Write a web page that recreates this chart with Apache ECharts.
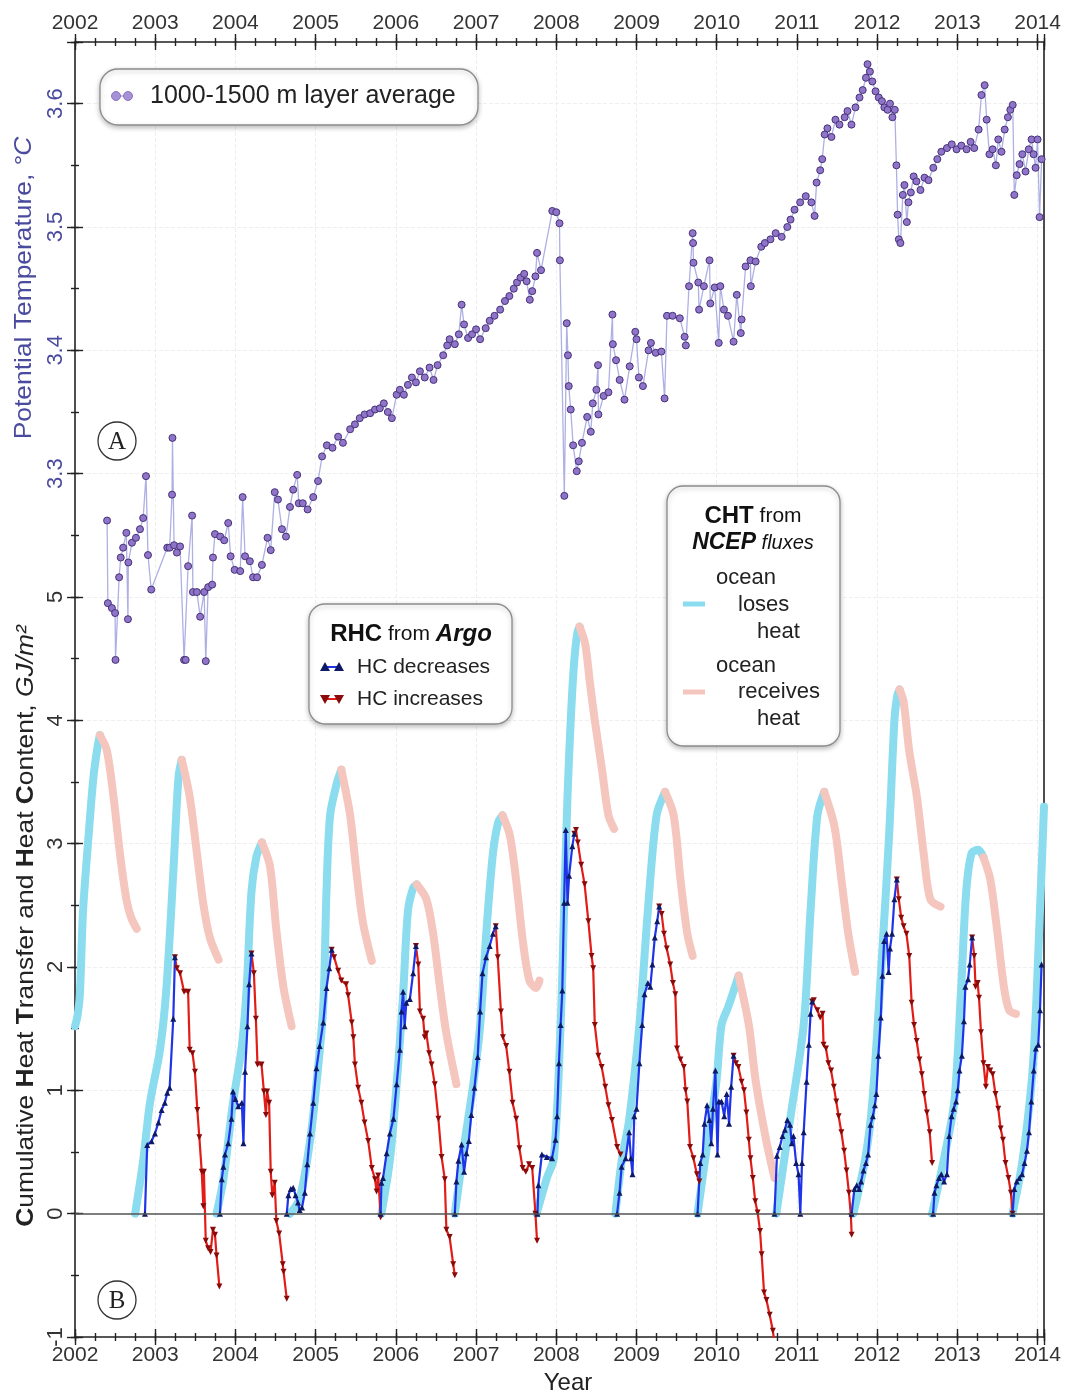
<!DOCTYPE html>
<html>
<head>
<meta charset="utf-8">
<script src="https://cdn.jsdelivr.net/npm/echarts@6/dist/echarts.min.js"></script>
<style>
  html, body { margin: 0; padding: 0; background: #fff; }
  #chart { width: 1070px; height: 1395px; }
</style>
</head>
<body>
<div id="chart"></div>
<script>
// 1000-1500 m layer average potential temperature [year, degC]
const tempData = [
  [2002.40,3.262],[2002.41,3.195],[2002.46,3.191],[2002.50,3.187],[2002.505,3.149],[2002.55,3.216],[2002.57,3.232],
  [2002.60,3.240],[2002.64,3.252],[2002.66,3.182],[2002.665,3.228],[2002.71,3.244],[2002.76,3.248],[2002.81,3.255],
  [2002.85,3.264],[2002.885,3.298],[2002.91,3.234],[2002.95,3.206],[2003.15,3.240],[2003.18,3.240],[2003.21,3.283],
  [2003.215,3.329],[2003.235,3.242],[2003.27,3.236],[2003.31,3.241],[2003.36,3.149],[2003.38,3.149],[2003.41,3.225],
  [2003.46,3.266],[2003.47,3.204],[2003.52,3.204],[2003.56,3.184],[2003.61,3.204],[2003.63,3.148],[2003.66,3.208],
  [2003.71,3.210],[2003.72,3.232],[2003.745,3.251],[2003.81,3.249],[2003.86,3.246],[2003.91,3.260],[2003.94,3.233],
  [2003.99,3.222],[2004.06,3.221],[2004.09,3.281],[2004.12,3.233],[2004.18,3.229],[2004.22,3.216],[2004.27,3.216],
  [2004.33,3.226],[2004.40,3.248],[2004.44,3.238],[2004.49,3.285],[2004.53,3.279],[2004.58,3.255],[2004.63,3.249],
  [2004.68,3.273],[2004.72,3.287],[2004.77,3.299],[2004.79,3.276],[2004.84,3.276],[2004.90,3.271],[2004.97,3.281],
  [2005.03,3.294],[2005.08,3.314],[2005.14,3.323],[2005.21,3.321],[2005.28,3.330],[2005.34,3.325],[2005.43,3.336],
  [2005.49,3.340],[2005.55,3.345],[2005.61,3.348],[2005.68,3.349],[2005.74,3.352],[2005.80,3.353],[2005.85,3.357],
  [2005.90,3.350],[2005.95,3.345],[2006.01,3.364],[2006.05,3.368],[2006.10,3.364],[2006.15,3.372],[2006.20,3.378],
  [2006.25,3.374],[2006.30,3.383],[2006.36,3.378],[2006.42,3.386],[2006.47,3.376],[2006.52,3.388],[2006.59,3.396],
  [2006.64,3.404],[2006.67,3.409],[2006.735,3.405],[2006.785,3.413],[2006.82,3.437],[2006.85,3.421],[2006.90,3.410],
  [2006.95,3.413],[2007.00,3.417],[2007.05,3.409],[2007.12,3.418],[2007.17,3.424],[2007.23,3.428],[2007.30,3.433],
  [2007.36,3.440],[2007.415,3.444],[2007.47,3.450],[2007.51,3.455],[2007.554,3.459],[2007.60,3.462],[2007.63,3.456],
  [2007.67,3.441],[2007.70,3.448],[2007.74,3.460],[2007.76,3.479],[2007.81,3.465],[2007.95,3.513],[2008.00,3.512],
  [2008.04,3.503],[2008.045,3.473],[2008.10,3.282],[2008.13,3.422],[2008.145,3.396],[2008.155,3.371],[2008.18,3.352],
  [2008.21,3.323],[2008.255,3.302],[2008.28,3.310],[2008.32,3.325],[2008.385,3.346],[2008.43,3.334],[2008.455,3.357],
  [2008.50,3.368],[2008.52,3.388],[2008.525,3.348],[2008.59,3.363],[2008.65,3.366],[2008.70,3.429],[2008.705,3.405],
  [2008.745,3.392],[2008.79,3.376],[2008.85,3.360],[2008.915,3.387],[2008.985,3.415],[2009.00,3.409],[2009.03,3.378],
  [2009.08,3.371],[2009.15,3.400],[2009.18,3.406],[2009.24,3.398],[2009.31,3.399],[2009.35,3.361],[2009.38,3.428],
  [2009.45,3.428],[2009.54,3.426],[2009.60,3.411],[2009.615,3.404],[2009.655,3.452],[2009.70,3.495],[2009.705,3.487],
  [2009.71,3.471],[2009.77,3.455],[2009.78,3.433],[2009.84,3.452],[2009.91,3.473],[2009.92,3.438],[2009.975,3.451],
  [2010.025,3.406],[2010.045,3.452],[2010.09,3.433],[2010.14,3.428],[2010.21,3.407],[2010.25,3.445],[2010.30,3.414],
  [2010.31,3.425],[2010.36,3.468],[2010.42,3.473],[2010.425,3.452],[2010.485,3.472],[2010.555,3.484],[2010.60,3.487],
  [2010.67,3.490],[2010.735,3.495],[2010.81,3.492],[2010.88,3.500],[2010.92,3.506],[2010.97,3.514],[2011.04,3.520],
  [2011.11,3.525],[2011.18,3.520],[2011.22,3.509],[2011.245,3.536],[2011.29,3.546],[2011.315,3.555],[2011.346,3.575],
  [2011.38,3.580],[2011.43,3.573],[2011.48,3.587],[2011.53,3.583],[2011.595,3.589],[2011.63,3.594],[2011.68,3.583],
  [2011.73,3.597],[2011.78,3.605],[2011.82,3.611],[2011.86,3.621],[2011.88,3.632],[2011.91,3.626],[2011.94,3.618],
  [2011.98,3.610],[2012.02,3.605],[2012.06,3.602],[2012.09,3.597],[2012.13,3.595],[2012.16,3.600],[2012.19,3.589],
  [2012.22,3.595],[2012.24,3.550],[2012.255,3.510],[2012.27,3.490],[2012.29,3.487],[2012.32,3.526],[2012.34,3.534],
  [2012.37,3.504],[2012.39,3.520],[2012.42,3.528],[2012.455,3.541],[2012.49,3.537],[2012.54,3.530],[2012.59,3.540],
  [2012.64,3.538],[2012.70,3.548],[2012.75,3.555],[2012.80,3.561],[2012.87,3.564],[2012.93,3.567],[2012.99,3.563],
  [2013.05,3.566],[2013.115,3.563],[2013.165,3.569],[2013.21,3.564],[2013.265,3.579],[2013.30,3.607],[2013.34,3.615],
  [2013.365,3.587],[2013.40,3.559],[2013.44,3.563],[2013.48,3.550],[2013.51,3.571],[2013.55,3.561],[2013.59,3.579],
  [2013.63,3.589],[2013.66,3.595],[2013.69,3.599],[2013.71,3.526],[2013.74,3.542],[2013.775,3.551],[2013.81,3.559],
  [2013.85,3.545],[2013.89,3.563],[2013.925,3.571],[2013.95,3.559],[2013.975,3.548],[2014.00,3.571],[2014.025,3.508],
  [2014.05,3.555]
];

// RHC from Argo, GJ/m2 -- rising part of each cycle ("HC decreases")
const rhcRise = [
  [[2002.872,0],[2002.90,0.557],[2002.955,0.588],[2002.997,0.65],[2003.04,0.74],[2003.08,0.84],[2003.12,0.90],[2003.15,0.98],[2003.18,1.02],[2003.225,1.58],[2003.246,2.08]],
  [[2003.807,0],[2003.83,0.28],[2003.85,0.38],[2003.87,0.48],[2003.91,0.57],[2003.95,0.77],[2003.97,0.99],[2004.0,0.93],[2004.035,0.87],[2004.08,0.90],[2004.10,0.57],[2004.12,1.15],[2004.15,1.52],[2004.17,1.86],[2004.20,2.11]],
  [[2004.64,0],[2004.66,0.15],[2004.69,0.20],[2004.72,0.21],[2004.75,0.15],[2004.78,0.09],[2004.80,0.03],[2004.83,0.05],[2004.865,0.17],[2004.895,0.40],[2004.93,0.65],[2004.97,0.90],[2005.01,1.18],[2005.05,1.36],[2005.095,1.55],[2005.135,1.83],[2005.17,1.99],[2005.20,2.14]],
  [[2005.81,0],[2005.82,0.25],[2005.84,0.29],[2005.885,0.49],[2005.925,0.65],[2005.97,0.77],[2006.01,1.05],[2006.05,1.33],[2006.07,1.64],[2006.09,1.80],[2006.11,1.52],[2006.13,1.71],[2006.175,1.74],[2006.215,1.95],[2006.25,2.17]],
  [[2006.735,0],[2006.755,0.26],[2006.78,0.43],[2006.82,0.56],[2006.85,0.34],[2006.88,0.49],[2006.91,0.59],[2006.94,0.80],[2006.98,1.02],[2007.02,1.27],[2007.05,1.64],[2007.08,1.95],[2007.125,2.08],[2007.17,2.17],[2007.21,2.27],[2007.245,2.33]],
  [[2007.765,0],[2007.777,0.23],[2007.82,0.48],[2007.883,0.46],[2007.947,0.45],[2007.99,0.60],[2008.01,0.79],[2008.033,1.22],[2008.054,1.53],[2008.075,1.81],[2008.097,2.52],[2008.118,3.11],[2008.14,2.52],[2008.16,2.74],[2008.20,2.98],[2008.225,3.08]],
  [[2008.758,0],[2008.788,0.17],[2008.814,0.38],[2008.865,0.45],[2008.908,0.66],[2008.93,0.45],[2008.95,0.32],[2008.972,0.79],[2009.0,0.85],[2009.036,1.22],[2009.07,1.53],[2009.10,1.78],[2009.142,1.87],[2009.172,1.84],[2009.198,2.02],[2009.228,2.24],[2009.258,2.37],[2009.283,2.49]],
  [[2009.761,0],[2009.795,0.41],[2009.825,0.48],[2009.847,0.73],[2009.88,0.88],[2009.91,0.76],[2009.932,0.57],[2009.953,0.85],[2009.983,1.16],[2010.01,0.48],[2010.026,0.91],[2010.06,0.91],[2010.094,0.79],[2010.124,0.97],[2010.154,0.73],[2010.18,1.03],[2010.21,1.28]],
  [[2010.72,0],[2010.751,0.47],[2010.786,0.54],[2010.82,0.63],[2010.85,0.68],[2010.88,0.76],[2010.914,0.72],[2010.935,0.57],[2010.956,0.63],[2010.99,0.41],[2011.02,0.32],[2011.042,0],[2011.063,0.41],[2011.084,0.66],[2011.12,1.07],[2011.148,1.37],[2011.17,1.62],[2011.19,1.72]],
  [[2011.682,0],[2011.716,0.20],[2011.746,0.23],[2011.776,0.20],[2011.80,0.26],[2011.83,0.35],[2011.86,0.41],[2011.887,0.48],[2011.917,0.72],[2011.947,0.79],[2011.972,0.88],[2011.99,0.97],[2012.015,1.28],[2012.045,1.59],[2012.066,1.93],[2012.087,2.21],[2012.117,2.27],[2012.143,1.96],[2012.16,2.15],[2012.186,2.27],[2012.215,2.55],[2012.245,2.71]],
  [[2012.698,0],[2012.715,0.17],[2012.74,0.23],[2012.77,0.29],[2012.80,0.32],[2012.834,0.26],[2012.87,0.32],[2012.898,0.63],[2012.928,0.79],[2012.954,0.85],[2012.984,0.91],[2013.005,1.0],[2013.026,1.16],[2013.056,1.28],[2013.082,1.56],[2013.10,1.84],[2013.133,1.90],[2013.154,2.02],[2013.184,2.24]],
  [[2013.688,0],[2013.71,0.20],[2013.74,0.26],[2013.773,0.29],[2013.807,0.32],[2013.837,0.41],[2013.867,0.51],[2013.893,0.66],[2013.922,0.91],[2013.952,1.16],[2013.978,1.34],[2014.008,1.37],[2014.03,1.65],[2014.05,2.02]]
];

// RHC from Argo -- falling part of each cycle ("HC increases")
const rhcFall = [
  [[2003.246,2.08],[2003.27,1.99],[2003.31,1.95],[2003.36,1.80],[2003.41,1.80],[2003.43,1.33],[2003.465,1.30],[2003.495,1.15],[2003.525,0.84],[2003.55,0.62],[2003.58,0.34],[2003.60,0.06],[2003.607,0.34],[2003.63,-0.22],[2003.66,-0.28],[2003.69,-0.31],[2003.72,-0.13],[2003.745,-0.17],[2003.765,-0.34],[2003.80,-0.59]],
  [[2004.20,2.11],[2004.23,1.95],[2004.255,1.58],[2004.275,1.21],[2004.325,1.21],[2004.355,0.99],[2004.38,0.80],[2004.395,0.99],[2004.42,0.90],[2004.44,0.34],[2004.46,0.15],[2004.49,0.25],[2004.51,-0.06],[2004.545,-0.16],[2004.59,-0.41],[2004.60,-0.47],[2004.64,-0.69]],
  [[2005.20,2.14],[2005.23,2.08],[2005.28,1.97],[2005.32,1.89],[2005.38,1.86],[2005.405,1.77],[2005.45,1.55],[2005.47,1.43],[2005.49,1.21],[2005.53,1.02],[2005.57,0.90],[2005.61,0.74],[2005.655,0.59],[2005.70,0.37],[2005.74,0.28],[2005.76,0.18],[2005.78,0.31],[2005.81,-0.03]],
  [[2006.25,2.17],[2006.28,2.02],[2006.30,1.64],[2006.34,1.58],[2006.36,1.43],[2006.38,1.46],[2006.415,1.30],[2006.445,1.21],[2006.485,1.05],[2006.53,0.77],[2006.57,0.46],[2006.61,0.28],[2006.63,-0.13],[2006.67,-0.19],[2006.715,-0.41],[2006.735,-0.50]],
  [[2007.245,2.33],[2007.27,2.08],[2007.31,1.64],[2007.335,1.43],[2007.375,1.36],[2007.415,1.15],[2007.455,0.90],[2007.50,0.77],[2007.54,0.53],[2007.58,0.37],[2007.62,0.34],[2007.66,0.40],[2007.70,0.37],[2007.74,0],[2007.76,-0.22]],
  [[2008.225,3.08],[2008.246,3.11],[2008.268,3.01],[2008.31,2.83],[2008.353,2.67],[2008.40,2.37],[2008.44,2.09],[2008.46,1.99],[2008.48,1.53],[2008.524,1.28],[2008.566,1.19],[2008.61,1.03],[2008.65,0.88],[2008.694,0.76],[2008.758,0.54],[2008.80,0.48]],
  [[2009.283,2.49],[2009.313,2.43],[2009.343,2.27],[2009.377,2.15],[2009.42,2.02],[2009.454,1.87],[2009.484,1.78],[2009.505,1.34],[2009.548,1.25],[2009.59,1.19],[2009.612,1.0],[2009.633,0.91],[2009.667,0.54],[2009.71,0.45],[2009.753,0.32],[2009.783,0.26]],
  [[2010.21,1.28],[2010.24,1.22],[2010.27,1.19],[2010.31,1.07],[2010.34,1.0],[2010.37,0.82],[2010.40,0.60],[2010.42,0.45],[2010.45,0.29],[2010.48,0.10],[2010.51,0.01],[2010.54,-0.14],[2010.56,-0.33],[2010.59,-0.64],[2010.62,-0.70],[2010.66,-0.82],[2010.70,-0.95],[2010.73,-1.1]],
  [[2011.19,1.72],[2011.21,1.73],[2011.255,1.65],[2011.29,1.59],[2011.32,1.62],[2011.332,1.37],[2011.362,1.34],[2011.392,1.22],[2011.426,1.16],[2011.46,1.03],[2011.49,0.91],[2011.52,0.79],[2011.554,0.66],[2011.588,0.51],[2011.618,0.35],[2011.648,0.17],[2011.673,-0.02],[2011.682,-0.17]],
  [[2012.245,2.71],[2012.27,2.55],[2012.30,2.40],[2012.33,2.33],[2012.365,2.27],[2012.40,2.09],[2012.43,1.71],[2012.46,1.53],[2012.493,1.40],[2012.527,1.25],[2012.557,1.13],[2012.587,0.97],[2012.62,0.82],[2012.655,0.66],[2012.685,0.41]],
  [[2013.184,2.24],[2013.21,2.09],[2013.227,1.84],[2013.253,1.87],[2013.27,1.75],[2013.295,1.47],[2013.325,1.22],[2013.355,1.03],[2013.38,1.19],[2013.41,1.16],[2013.44,1.13],[2013.475,0.97],[2013.51,0.85],[2013.54,0.69],[2013.568,0.60],[2013.60,0.41],[2013.637,0.29],[2013.667,0.17],[2013.688,0]]
];

// CHT from NCEP fluxes -- ocean loses heat (rising) / receives heat (falling)
const chtLoses = [
  [[2002.0,1.52],[2002.03,1.60],[2002.06,1.77],[2002.10,2.45],[2002.17,3.07],[2002.23,3.54],[2002.28,3.78],[2002.31,3.88]],
  [[2002.75,0],[2002.85,0.43],[2002.935,0.90],[2003.06,1.33],[2003.14,1.83],[2003.225,2.76],[2003.29,3.54],[2003.33,3.68]],
  [[2003.765,0],[2003.85,0.28],[2003.97,0.90],[2004.08,1.36],[2004.14,1.83],[2004.20,2.61],[2004.26,2.89],[2004.33,3.01]],
  [[2004.68,0],[2004.80,0.12],[2004.93,0.59],[2005.01,1.05],[2005.095,1.68],[2005.135,2.61],[2005.18,3.23],[2005.26,3.48],[2005.32,3.60]],
  [[2005.82,0],[2005.925,0.43],[2006.01,1.05],[2006.09,1.77],[2006.15,2.45],[2006.215,2.64],[2006.26,2.67]],
  [[2006.735,0],[2006.86,0.59],[2006.965,1.05],[2007.05,1.52],[2007.13,2.30],[2007.21,2.92],[2007.275,3.17],[2007.33,3.23]],
  [[2007.755,0],[2007.883,0.29],[2007.97,0.45],[2008.054,1.53],[2008.097,2.46],[2008.14,3.39],[2008.18,4.0],[2008.22,4.45],[2008.26,4.70],[2008.29,4.76]],
  [[2008.737,0],[2008.82,0.45],[2008.908,0.76],[2009.036,1.53],[2009.142,2.46],[2009.25,3.23],[2009.356,3.42]],
  [[2009.761,0],[2009.89,0.60],[2009.996,1.07],[2010.06,1.53],[2010.145,1.68],[2010.273,1.93]],
  [[2010.743,0],[2010.914,0.76],[2011.084,1.53],[2011.17,2.46],[2011.255,3.23],[2011.34,3.42]],
  [[2011.703,0],[2011.853,0.45],[2011.94,0.91],[2012.066,2.15],[2012.15,3.08],[2012.215,4.0],[2012.25,4.2],[2012.28,4.25]],
  [[2012.685,0],[2012.834,0.45],[2012.962,0.91],[2013.048,1.84],[2013.11,2.61],[2013.176,2.92],[2013.26,2.95],[2013.325,2.89]],
  [[2013.688,0],[2013.816,0.45],[2013.944,1.22],[2014.03,2.46],[2014.08,3.30]]
];
const chtReceives = [
  [[2002.31,3.88],[2002.395,3.76],[2002.48,3.38],[2002.56,2.92],[2002.64,2.55],[2002.70,2.40],[2002.77,2.31]],
  [[2003.33,3.68],[2003.43,3.38],[2003.52,2.92],[2003.60,2.51],[2003.68,2.24],[2003.79,2.06]],
  [[2004.33,3.01],[2004.43,2.82],[2004.51,2.30],[2004.60,1.83],[2004.70,1.52]],
  [[2005.32,3.60],[2005.43,3.23],[2005.51,2.76],[2005.59,2.36],[2005.70,2.05]],
  [[2006.26,2.67],[2006.38,2.55],[2006.465,2.27],[2006.55,1.83],[2006.63,1.46],[2006.755,1.05]],
  [[2007.33,3.23],[2007.42,3.07],[2007.50,2.70],[2007.585,2.20],[2007.665,1.89],[2007.75,1.83],[2007.79,1.89]],
  [[2008.29,4.76],[2008.36,4.62],[2008.42,4.30],[2008.48,4.0],[2008.57,3.60],[2008.65,3.23],[2008.72,3.12]],
  [[2009.356,3.42],[2009.463,3.23],[2009.548,2.71],[2009.633,2.27],[2009.70,2.09]],
  [[2010.273,1.93],[2010.40,1.53],[2010.487,1.07],[2010.615,0.60],[2010.72,0.29]],
  [[2011.34,3.42],[2011.468,3.14],[2011.554,2.71],[2011.64,2.27],[2011.725,1.96]],
  [[2012.28,4.25],[2012.33,4.15],[2012.40,3.75],[2012.493,3.39],[2012.58,2.92],[2012.663,2.55],[2012.79,2.49]],
  [[2013.325,2.89],[2013.41,2.71],[2013.495,2.30],[2013.58,1.84],[2013.645,1.65],[2013.73,1.62]]
];

const X_MIN = 2002, X_MAX = 2014.08;
const HC_MIN = -1, HC_MAX = 9.5;      // bottom panel axis, extends under panel A
const T_MIN = 2.6, T_MAX = 3.65;      // same pixel scale: 0.1 degC == 1 GJ/m2
const FONT = 'Liberation Sans, Arial, sans-serif';
const AXIS_COLOR = '#222';
const TEMP_COLOR = '#4a4a9e';
const CYAN = '#8adcee', PINK = '#f5c6be';

const myChart = echarts.init(document.getElementById('chart'));

function xAxisDef(position, interval, inside, len, withLabels) {
  return {
    type: 'value', position: position, min: X_MIN, max: X_MAX, interval: interval,
    axisLine: { show: withLabels, onZero: false, lineStyle: { color: AXIS_COLOR, width: 1.6 } },
    axisTick: { show: true, inside: inside, length: len, lineStyle: { color: AXIS_COLOR, width: 1.4 } },
    axisLabel: {
      show: withLabels, margin: 8, fontSize: 21, color: '#333', fontFamily: FONT,
      formatter: function (v) { return Math.abs(v - Math.round(v)) < 1e-6 ? String(Math.round(v)) : ''; }
    },
    splitLine: { show: withLabels && position === 'bottom', lineStyle: { color: '#efefef', type: 'dashed' } }
  };
}

function yTickAxis(interval, inside, len) {
  return {
    type: 'value', position: 'left', min: HC_MIN, max: HC_MAX, interval: interval,
    axisLine: { show: false, onZero: false },
    axisTick: { show: true, inside: inside, length: len, lineStyle: { color: AXIS_COLOR, width: 1.4 } },
    axisLabel: { show: false },
    splitLine: { show: false }
  };
}

function cycleSeries(cycles, base) {
  return cycles.map(function (d) { return Object.assign({ data: d }, base); });
}

const riseBase = {
  type: 'line', xAxisIndex: 0, yAxisIndex: 0, z: 4,
  symbol: 'triangle', symbolSize: 6,
  itemStyle: { color: '#0f1a66' },
  lineStyle: { color: '#1f33e8', width: 2.2 }
};
const fallBase = {
  type: 'line', xAxisIndex: 0, yAxisIndex: 0, z: 4,
  symbol: 'triangle', symbolRotate: 180, symbolSize: 6,
  itemStyle: { color: '#8a0a0a' },
  lineStyle: { color: '#e21d18', width: 2.2 }
};
const losesBase = {
  type: 'line', xAxisIndex: 0, yAxisIndex: 0, z: 2, smooth: 0.3,
  showSymbol: false, lineStyle: { color: CYAN, width: 8, cap: 'round' }
};
const receivesBase = {
  type: 'line', xAxisIndex: 0, yAxisIndex: 0, z: 2, smooth: 0.3,
  showSymbol: false, lineStyle: { color: PINK, width: 8, cap: 'round' }
};

const series = [].concat(
  cycleSeries(chtLoses, losesBase),
  cycleSeries(chtReceives, receivesBase),
  cycleSeries(rhcFall, fallBase),
  cycleSeries(rhcRise, riseBase),
  [{
    type: 'line', xAxisIndex: 0, yAxisIndex: 1, z: 5, data: tempData,
    symbol: 'circle', symbolSize: 7,
    itemStyle: { color: '#8f74c8', borderColor: '#45327a', borderWidth: 1 },
    lineStyle: { color: '#aeb0e4', width: 1.3 }
  }]
);
// zero line of the heat content axis
series[series.length - 2].markLine = {
  silent: true, symbol: 'none', label: { show: false },
  lineStyle: { color: '#555', width: 1.5, type: 'solid' },
  data: [{ yAxis: 0 }]
};

function legendTriangles(x, y, up, fill) {
  const pts = function (cx) {
    return up ? [[cx - 5, y + 4], [cx + 5, y + 4], [cx, y - 5]] : [[cx - 5, y - 4], [cx + 5, y - 4], [cx, y + 5]];
  };
  return [
    { type: 'line', z: 101, shape: { x1: x, y1: y, x2: x + 14, y2: y }, style: { stroke: up ? '#1f33e8' : '#e21d18', lineWidth: 2 } },
    { type: 'polygon', z: 102, shape: { points: pts(x) }, style: { fill: fill } },
    { type: 'polygon', z: 102, shape: { points: pts(x + 14) }, style: { fill: fill } }
  ];
}

function plainText(x, y, text, size, extra) {
  return Object.assign({
    type: 'text', x: x, y: y, z: 101,
    style: { text: text, fontSize: size, fontFamily: FONT, fill: '#222', textAlign: 'left', textVerticalAlign: 'middle' }
  }, extra || {});
}

const boxStyle = { fill: '#fff', stroke: '#8c8c8c', lineWidth: 1.3, shadowBlur: 5, shadowColor: 'rgba(0,0,0,0.25)', shadowOffsetY: 2 };

const graphic = [
  // legend of panel A
  { type: 'rect', z: 100, shape: { x: 100, y: 69, width: 378, height: 56, r: 18 }, style: boxStyle },
  { type: 'line', z: 101, shape: { x1: 116, y1: 96, x2: 128, y2: 96 }, style: { stroke: '#aeb0e4', lineWidth: 1.5 } },
  { type: 'circle', z: 102, shape: { cx: 116, cy: 96, r: 4.5 }, style: { fill: '#a690d6', stroke: '#8a76c0', lineWidth: 1 } },
  { type: 'circle', z: 102, shape: { cx: 128, cy: 96, r: 4.5 }, style: { fill: '#a690d6', stroke: '#8a76c0', lineWidth: 1 } },
  plainText(150, 96, '1000-1500 m layer average', 25),

  // RHC legend
  { type: 'rect', z: 100, shape: { x: 309, y: 604, width: 203, height: 120, r: 16 }, style: boxStyle },
  {
    type: 'text', x: 411, y: 634, z: 101,
    style: {
      text: '{b|RHC} from {bi|Argo}', fontSize: 21, fontFamily: FONT, fill: '#111',
      textAlign: 'center', textVerticalAlign: 'middle',
      rich: { b: { fontSize: 24, fontWeight: 'bold', fontFamily: FONT }, bi: { fontSize: 24, fontWeight: 'bold', fontStyle: 'italic', fontFamily: FONT } }
    }
  }
].concat(
  legendTriangles(325, 667, true, '#0f1a66'),
  legendTriangles(325, 699, false, '#8a0a0a'),
  [
    plainText(357, 667, 'HC decreases', 21),
    plainText(357, 699, 'HC increases', 21),

    // CHT legend
    { type: 'rect', z: 100, shape: { x: 667, y: 486, width: 173, height: 260, r: 16 }, style: boxStyle },
    {
      type: 'text', x: 753, y: 516, z: 101,
      style: {
        text: '{b|CHT} from', fontSize: 21, fontFamily: FONT, fill: '#111', textAlign: 'center', textVerticalAlign: 'middle',
        rich: { b: { fontSize: 24, fontWeight: 'bold', fontFamily: FONT } }
      }
    },
    {
      type: 'text', x: 753, y: 543, z: 101,
      style: {
        text: '{bi|NCEP} {i|fluxes}', fontSize: 20, fontFamily: FONT, fill: '#111', textAlign: 'center', textVerticalAlign: 'middle',
        rich: { bi: { fontSize: 23, fontWeight: 'bold', fontStyle: 'italic', fontFamily: FONT }, i: { fontSize: 20, fontStyle: 'italic', fontFamily: FONT } }
      }
    },
    { type: 'line', z: 101, shape: { x1: 683, y1: 604, x2: 705, y2: 604 }, style: { stroke: CYAN, lineWidth: 5 } },
    plainText(716, 578, 'ocean', 22),
    plainText(738, 605, 'loses', 22),
    plainText(757, 632, 'heat', 22),
    { type: 'line', z: 101, shape: { x1: 683, y1: 692, x2: 705, y2: 692 }, style: { stroke: PINK, lineWidth: 5 } },
    plainText(716, 666, 'ocean', 22),
    plainText(738, 692, 'receives', 22),
    plainText(757, 719, 'heat', 22),

    // panel marks
    { type: 'circle', z: 101, shape: { cx: 117, cy: 441, r: 19 }, style: { fill: 'rgba(255,255,255,0)', stroke: '#333', lineWidth: 1.3 } },
    { type: 'text', x: 117, y: 442, z: 102, style: { text: 'A', fontSize: 25, fontFamily: 'Liberation Serif, serif', fill: '#222', textAlign: 'center', textVerticalAlign: 'middle' } },
    { type: 'circle', z: 101, shape: { cx: 117, cy: 1300, r: 19 }, style: { fill: 'rgba(255,255,255,0)', stroke: '#333', lineWidth: 1.3 } },
    { type: 'text', x: 117, y: 1301, z: 102, style: { text: 'B', fontSize: 25, fontFamily: 'Liberation Serif, serif', fill: '#222', textAlign: 'center', textVerticalAlign: 'middle' } },

    // axis titles
    {
      type: 'text', x: 24, y: 288, rotation: Math.PI / 2, scaleX: 1.1, z: 101,
      style: {
        text: 'Potential Temperature, {i|°C}', fontSize: 24, fontFamily: FONT, fill: TEMP_COLOR,
        textAlign: 'center', textVerticalAlign: 'middle',
        rich: { i: { fontSize: 24, fontStyle: 'italic', fontFamily: FONT, color: TEMP_COLOR } }
      }
    },
    {
      type: 'text', x: 26, y: 926, rotation: Math.PI / 2, scaleX: 1.1, z: 101,
      style: {
        text: '{b|C}umulative {b|H}eat {b|T}ransfer and {b|H}eat {b|C}ontent, {i|GJ/m²}', fontSize: 24, fontFamily: FONT, fill: '#222',
        textAlign: 'center', textVerticalAlign: 'middle',
        rich: {
          b: { fontSize: 24, fontWeight: 'bold', fontFamily: FONT, color: '#222' },
          i: { fontSize: 24, fontStyle: 'italic', fontFamily: FONT, color: '#222' }
        }
      }
    },
    plainText(568, 1383, 'Year', 24, { style: { text: 'Year', fontSize: 24, fontFamily: FONT, fill: '#222', textAlign: 'center', textVerticalAlign: 'middle' } })
  ]
);

myChart.setOption({
  animation: false,
  backgroundColor: '#fff',
  grid: { left: 75, right: 26, top: 42, bottom: 58 },
  xAxis: [
    xAxisDef('bottom', 1, false, 8, true),
    xAxisDef('bottom', 1, true, 8, false),
    xAxisDef('bottom', 0.25, false, 4, false),
    xAxisDef('bottom', 0.25, true, 4, false),
    xAxisDef('top', 1, false, 8, true),
    xAxisDef('top', 1, true, 8, false),
    xAxisDef('top', 0.25, false, 4, false),
    xAxisDef('top', 0.25, true, 4, false)
  ],
  yAxis: [
    {
      // heat content axis (panel B), ticks also serve panel A
      type: 'value', position: 'left', min: HC_MIN, max: HC_MAX, interval: 1,
      axisLine: { show: true, onZero: false, lineStyle: { color: AXIS_COLOR, width: 1.6 } },
      axisTick: { show: true, length: 8, lineStyle: { color: AXIS_COLOR, width: 1.4 } },
      axisLabel: {
        rotate: 90, margin: 8, fontSize: 22, color: '#333', fontFamily: FONT,
        formatter: function (v) { return v <= 5.0001 ? String(Math.round(v)) : ''; }
      },
      splitLine: { show: true, lineStyle: { color: '#efefef', type: 'dashed' } }
    },
    {
      // potential temperature axis (panel A)
      type: 'value', position: 'left', min: T_MIN, max: T_MAX, interval: 0.1,
      axisLine: { show: false, onZero: false },
      axisTick: { show: false },
      axisLabel: {
        rotate: 90, margin: 8, fontSize: 22, color: TEMP_COLOR, fontFamily: FONT,
        formatter: function (v) { return (v > 3.25 && v < 3.62) ? v.toFixed(1) : ''; }
      },
      splitLine: { show: false }
    },
    yTickAxis(1, true, 8),
    yTickAxis(0.5, false, 4),
    yTickAxis(0.5, true, 4),
    {
      type: 'value', position: 'right', min: HC_MIN, max: HC_MAX,
      axisLine: { show: true, onZero: false, lineStyle: { color: AXIS_COLOR, width: 1.6 } },
      axisTick: { show: false }, axisLabel: { show: false }, splitLine: { show: false }
    }
  ],
  graphic: graphic,
  series: series
});
</script>
</body>
</html>
